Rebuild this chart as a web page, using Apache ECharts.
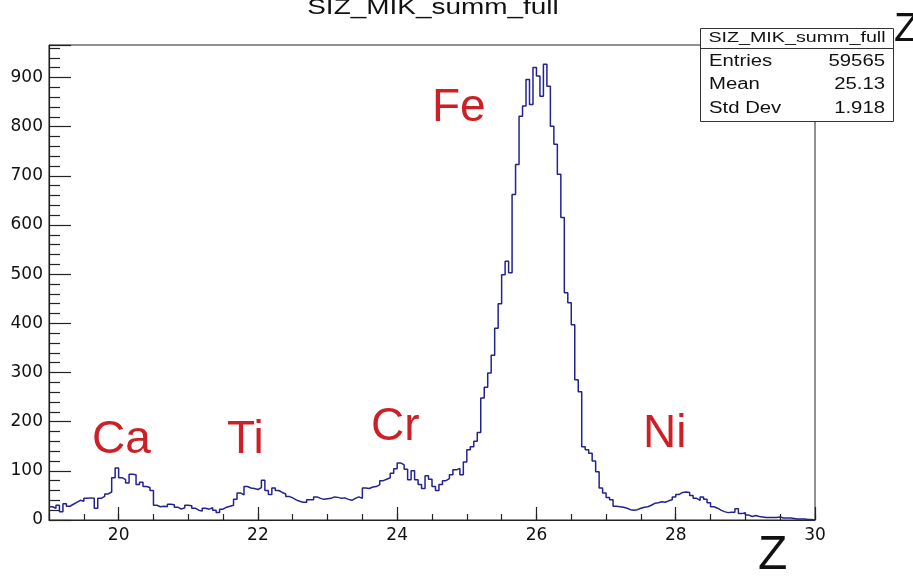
<!DOCTYPE html>
<html>
<head>
<meta charset="utf-8">
<script src="https://cdn.jsdelivr.net/npm/echarts@6/dist/echarts.min.js"></script>
<style>
  html, body { margin: 0; padding: 0; background: #fff; }
  #chart { width: 913px; height: 577px; }
</style>
</head>
<body>
<div id="chart"></div>
<script>
// histogram SIZ_MIK_summ_full, bins of 0.05 from Z = 19 to 30
const binStart = 19;
const binWidth = 0.05;
const counts = [
  27, 24, 30, 17, 33, 28, 32, 36, 40, 38, 44, 45, 44, 24, 44, 48, 53, 57, 86, 106,
  86, 82, 75, 93, 92, 72, 77, 68, 66, 60, 30, 27, 28, 27, 32, 31, 26, 22, 25, 30,
  29, 24, 20, 18, 24, 22, 25, 20, 15, 22, 26, 28, 30, 42, 55, 51, 68, 65, 64, 62,
  66, 81, 60, 52, 65, 60, 56, 53, 48, 45, 41, 38, 36, 36, 41, 41, 47, 44, 42, 43,
  44, 47, 46, 44, 45, 42, 40, 44, 47, 44, 65, 64, 67, 68, 72, 80, 83, 86, 95, 104,
  116, 112, 103, 82, 100, 82, 72, 64, 90, 83, 68, 60, 72, 80, 84, 92, 102, 105, 92, 118,
  143, 149, 160, 178, 248, 270, 299, 335, 390, 440, 499, 526, 503, 662, 723, 821, 842, 896, 845, 920,
  903, 862, 927, 882, 801, 764, 703, 615, 462, 442, 397, 285, 261, 149, 143, 136, 120, 98, 65, 55,
  46, 41, 28, 27, 26, 24, 21, 20, 21, 24, 26, 27, 30, 34, 35, 37, 36, 39, 41, 47,
  52, 56, 57, 56, 50, 44, 40, 47, 42, 35, 27, 24, 20, 17, 15, 16, 16, 23, 13, 15,
  10, 7, 9, 7, 6, 5, 5, 5, 5, 6, 4, 4, 4, 3, 2, 2, 2, 1, 1, 0
];
const xLabels = [20, 22, 24, 26, 28, 30];
const elements = ['Ca', 'Ti', 'Cr', 'Fe', 'Ni'];
const statNames = ['Entries', 'Mean', 'Std Dev'];
const statValues = ['59565', '25.13', '1.918'];

// step outline: both edges of every bin
const outline = [];
counts.forEach((v, i) => {
  const lo = +(binStart + i * binWidth).toFixed(4);
  const hi = +(binStart + (i + 1) * binWidth).toFixed(4);
  outline.push([lo, v], [hi, v]);
});

const font = '"Liberation Sans", Arial, Helvetica, sans-serif';
const axisFont = '"DejaVu Sans", sans-serif';
const red = '#cc1f26';
const stretch = 1.27; // the original picture is a bit wider than tall
const elemPos = [[92, 417], [227, 417], [371, 404], [432, 85], [643, 411]];

const chart = echarts.init(document.getElementById('chart'));

// text that is stretched sideways, anchored at (x, y)
function wideText(str, x, y, size, align) {
  return {
    type: 'text', x: x, y: y, scaleX: stretch, z: 101,
    style: { text: str, font: size + 'px ' + font, fill: '#111',
             textAlign: align, textVerticalAlign: 'middle' }
  };
}

const graphics = [
  wideText('SIZ_MIK_summ_full', 433, 8, 22, 'center'),
  {
    type: 'text', left: 758, top: 532, z: 100,
    style: { text: 'Z', font: '48px ' + font, fill: '#111' }
  },
  {
    type: 'text', left: 894, top: 10, z: 100,
    style: { text: 'Z', font: '40px ' + font, fill: '#111' }
  },
  {
    type: 'rect', z: 100,
    shape: { x: 700.5, y: 28.5, width: 193, height: 93 },
    style: { fill: '#fff', stroke: '#333', lineWidth: 1 }
  },
  {
    type: 'line', z: 101,
    shape: { x1: 700.5, y1: 48.5, x2: 893.5, y2: 48.5 },
    style: { stroke: '#333', lineWidth: 1 }
  },
  wideText('SIZ_MIK_summ_full', 797, 38, 15.5, 'center')
];
statNames.forEach((name, i) => {
  const y = 61.5 + i * 23.5;
  graphics.push(wideText(name, 709, y, 16, 'left'));
  graphics.push(wideText(statValues[i], 885, y, 16, 'right'));
});
elements.forEach((el, i) => {
  graphics.push({
    type: 'text', left: elemPos[i][0], top: elemPos[i][1], z: 100,
    style: { text: el, font: '46px ' + font, fill: red }
  });
});

const option = {
  animation: false,
  backgroundColor: '#fff',
  grid: {
    left: 49, right: 98, top: 45, bottom: 57,
    show: true, borderColor: '#222', borderWidth: 1,
    outerBoundsMode: 'none'
  },
  xAxis: [
    {
      type: 'value', min: 19, max: 30,
      axisLine: { show: true, lineStyle: { color: '#222', width: 1.2 } },
      axisTick: { show: true, inside: true, length: 13, customValues: xLabels,
                  lineStyle: { color: '#222', width: 1.2 } },
      axisLabel: { customValues: xLabels, color: '#111', fontSize: 17,
                   fontFamily: axisFont, margin: 7 },
      splitLine: { show: false }
    },
    {
      type: 'value', min: 19, max: 30, interval: 0.5, position: 'bottom',
      axisLine: { show: false },
      axisTick: { show: true, inside: true, length: 6,
                  lineStyle: { color: '#222', width: 1.2 } },
      axisLabel: { show: false },
      splitLine: { show: false }
    }
  ],
  yAxis: {
    type: 'value', min: 0, max: 966, interval: 100,
    axisLine: { show: true, lineStyle: { color: '#222', width: 1.2 } },
    axisTick: { show: true, inside: true, length: 22,
                lineStyle: { color: '#222', width: 1.2 } },
    minorTick: { show: true, splitNumber: 5, length: 11,
                 lineStyle: { color: '#222', width: 1.2 } },
    axisLabel: {
      color: '#111', fontSize: 17, fontFamily: axisFont, margin: 6,
      formatter: v => (v % 100 === 0 && v <= 900 ? String(v) : '')
    },
    splitLine: { show: false }
  },
  series: [{
    type: 'line',
    xAxisIndex: 0,
    data: outline,
    showSymbol: false,
    symbol: 'none',
    lineStyle: { color: '#23238f', width: 1.5 },
    clip: true
  }],
  graphic: graphics
};

chart.setOption(option);
</script>
</body>
</html>
